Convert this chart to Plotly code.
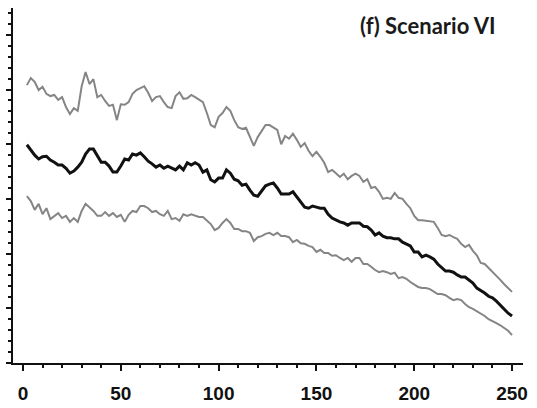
import plotly.graph_objects as go

# Time steps (every second step from 2 to 250)
steps = list(range(2, 251, 2))

# Upper bound series
upper = [
    5.08, 5.21, 5.14, 4.99, 5.05, 4.92, 4.88, 4.90, 4.81, 4.86,
    4.68, 4.55, 4.66, 4.61, 5.06, 5.32, 5.10, 5.19, 4.86, 4.90,
    4.79, 4.70, 4.72, 4.44, 4.73, 4.72, 4.77, 4.92, 4.99, 5.03,
    5.06, 4.94, 4.79, 4.86, 4.88, 4.77, 4.68, 4.66, 4.88, 4.95,
    4.83, 4.84, 4.90, 4.86, 4.81, 4.77, 4.57, 4.35, 4.31, 4.50,
    4.57, 4.68, 4.61, 4.44, 4.31, 4.28, 4.30, 4.13, 3.97, 4.13,
    4.24, 4.35, 4.35, 4.30, 4.26, 4.00, 4.15, 4.10, 4.19, 4.08,
    3.95, 4.02, 3.88, 3.78, 3.86, 3.77, 3.66, 3.49, 3.53, 3.47,
    3.40, 3.46, 3.36, 3.42, 3.46, 3.42, 3.31, 3.36, 3.20, 3.22,
    3.13, 3.00, 3.02, 3.00, 3.11, 3.02, 3.00, 2.91, 2.83, 2.69,
    2.61, 2.61, 2.60, 2.58, 2.58, 2.47, 2.34, 2.32, 2.34, 2.30,
    2.27, 2.18, 2.12, 2.16, 2.05, 1.97, 1.83, 1.81, 1.74, 1.66,
    1.59, 1.52, 1.44, 1.37, 1.30,
]

# Central series
middle = [
    3.99, 3.89, 3.80, 3.73, 3.77, 3.78, 3.71, 3.67, 3.62, 3.62,
    3.56, 3.47, 3.51, 3.58, 3.67, 3.82, 3.91, 3.91, 3.80, 3.67,
    3.67, 3.60, 3.49, 3.49, 3.60, 3.73, 3.71, 3.82, 3.80, 3.84,
    3.77, 3.69, 3.64, 3.58, 3.62, 3.56, 3.60, 3.56, 3.53, 3.60,
    3.53, 3.66, 3.62, 3.66, 3.62, 3.49, 3.53, 3.35, 3.31, 3.38,
    3.38, 3.53, 3.47, 3.36, 3.33, 3.25, 3.27, 3.16, 3.07, 3.05,
    3.14, 3.24, 3.27, 3.29, 3.20, 3.09, 3.09, 3.09, 3.13, 3.03,
    2.94, 2.85, 2.83, 2.87, 2.85, 2.83, 2.83, 2.72, 2.65, 2.61,
    2.58, 2.56, 2.52, 2.56, 2.56, 2.56, 2.50, 2.49, 2.43, 2.34,
    2.38, 2.32, 2.29, 2.29, 2.27, 2.27, 2.21, 2.18, 2.14, 2.03,
    2.03, 1.94, 1.97, 1.94, 1.90, 1.81, 1.74, 1.68, 1.68, 1.66,
    1.61, 1.57, 1.57, 1.52, 1.46, 1.37, 1.33, 1.28, 1.22, 1.19,
    1.13, 1.06, 0.99, 0.91, 0.86,
]

# Lower bound series
lower = [
    3.05, 2.96, 2.80, 2.91, 2.72, 2.83, 2.63, 2.69, 2.74, 2.65,
    2.69, 2.58, 2.65, 2.58, 2.78, 2.91, 2.85, 2.78, 2.69, 2.69,
    2.76, 2.69, 2.74, 2.67, 2.71, 2.58, 2.71, 2.78, 2.76, 2.87,
    2.87, 2.83, 2.76, 2.78, 2.72, 2.69, 2.78, 2.63, 2.65, 2.60,
    2.72, 2.69, 2.72, 2.69, 2.67, 2.67, 2.61, 2.54, 2.43, 2.47,
    2.56, 2.63, 2.56, 2.45, 2.45, 2.41, 2.41, 2.38, 2.23, 2.30,
    2.32, 2.36, 2.38, 2.34, 2.38, 2.32, 2.32, 2.30, 2.21, 2.25,
    2.19, 2.18, 2.14, 2.12, 2.03, 2.07, 2.01, 2.01, 1.96, 1.97,
    1.92, 1.88, 1.92, 1.85, 1.92, 1.92, 1.81, 1.81, 1.76, 1.70,
    1.66, 1.68, 1.66, 1.63, 1.65, 1.55, 1.57, 1.54, 1.48, 1.43,
    1.39, 1.37, 1.37, 1.35, 1.30, 1.26, 1.26, 1.24, 1.19, 1.15,
    1.17, 1.15, 1.08, 1.02, 0.99, 0.95, 0.91, 0.86, 0.80, 0.77,
    0.73, 0.69, 0.64, 0.59, 0.51,
]

x_ticks = [0, 50, 100, 150, 200, 250]
title_text = "(f) Scenario VI"

fig = go.Figure()
for series, color, width in [(upper, "#858585", 2), (lower, "#858585", 2), (middle, "#111111", 3)]:
    fig.add_trace(go.Scatter(
        x=steps[:len(series)], y=series, mode="lines",
        line=dict(color=color, width=width),
        showlegend=False, hoverinfo="skip",
    ))

fig.add_annotation(
    text=f"<b>{title_text}</b>", xref="paper", yref="paper",
    x=0.951, y=0.952, xanchor="right", yanchor="middle", showarrow=False,
    font=dict(family="Lato", size=22, color="#1a1a1a"),
)

fig.update_layout(
    width=537, height=408,
    margin=dict(l=13, r=14, t=8, b=45),
    paper_bgcolor="white", plot_bgcolor="white",
    xaxis=dict(
        range=[-5.1, 255.6], tickvals=x_ticks, ticktext=[str(v) for v in x_ticks],
        automargin=False,
        showgrid=False, zeroline=False, showline=True, linecolor="#111111", linewidth=2,
        ticks="outside", ticklen=6, tickwidth=2, tickcolor="#111111",
        ticklabelstandoff=6,
        tickfont=dict(family="Liberation Sans", size=19, color="#111111", weight="bold"),
        minor=dict(dtick=10, tick0=0, ticks="outside", ticklen=3, tickwidth=2, tickcolor="#111111"),
    ),
    yaxis=dict(
        range=[0, 6.49], dtick=1, tick0=0, showticklabels=False, automargin=False,
        showgrid=False, zeroline=False, showline=True, linecolor="#111111", linewidth=2,
        ticks="outside", ticklen=5, tickwidth=2, tickcolor="#111111",
        minor=dict(dtick=0.2, tick0=0, ticks="outside", ticklen=3, tickwidth=2, tickcolor="#111111"),
    ),
)

fig.write_html("out.html")
